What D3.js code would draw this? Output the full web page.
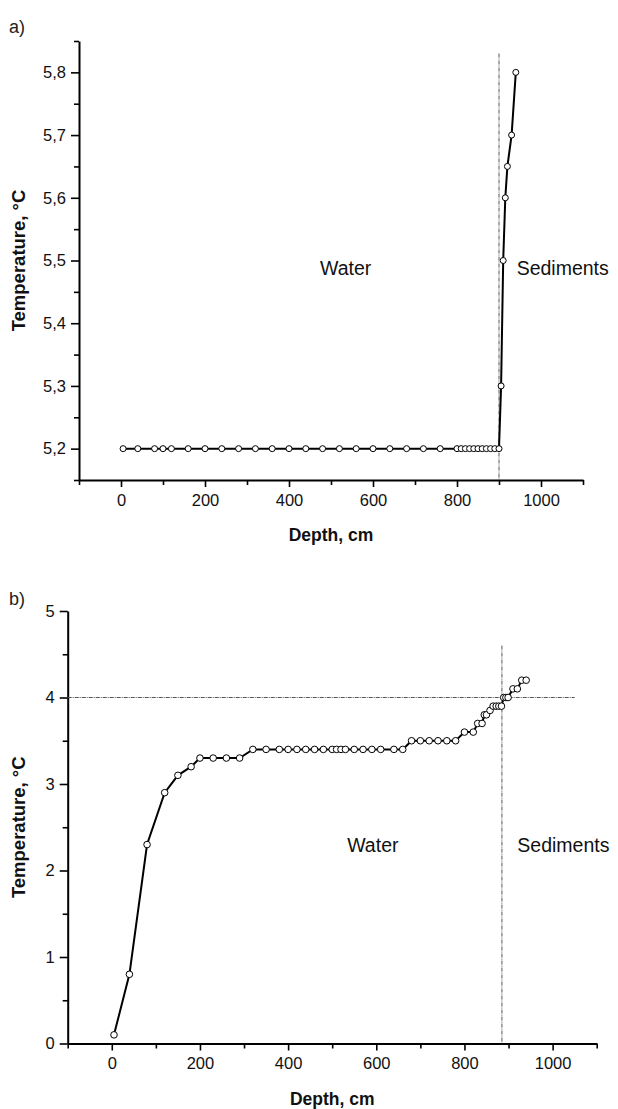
<!DOCTYPE html>
<html>
<head>
<meta charset="utf-8">
<script src="https://cdn.jsdelivr.net/npm/d3@7"></script>
<style>
  body { margin: 0; background: #fff; }
  svg { font-family: "Liberation Sans", Arial, sans-serif; }
</style>
</head>
<body>
<div id="chart"></div>
<script>
    // panel a) - temperature profile
    const depthA = [5, 40, 80, 100, 120, 160, 200, 240, 280, 320, 360, 400, 440, 480, 520, 560, 600, 640, 680, 720, 760,
        800, 810, 820, 830, 840, 850, 860, 870, 880, 890, 900, 905, 910, 915, 920, 930, 940];
    const tempA = [5.2, 5.2, 5.2, 5.2, 5.2, 5.2, 5.2, 5.2, 5.2, 5.2, 5.2, 5.2, 5.2, 5.2, 5.2, 5.2, 5.2, 5.2, 5.2, 5.2, 5.2,
        5.2, 5.2, 5.2, 5.2, 5.2, 5.2, 5.2, 5.2, 5.2, 5.2, 5.2, 5.3, 5.5, 5.6, 5.65, 5.7, 5.8];

    // panel b)
    const depthB = [5, 40, 80, 120, 150, 180, 200, 230, 260, 290,
        320, 350, 380, 400, 420, 440, 460, 480, 500, 510, 520, 530, 550, 570, 590, 610, 640, 660,
        680, 700, 720, 740, 760, 780, 800, 820, 830, 840, 845, 850, 858, 865, 872, 878, 884,
        889, 894, 899, 910, 920, 930, 940];
    const tempB = [0.1, 0.8, 2.3, 2.9, 3.1, 3.2, 3.3, 3.3, 3.3, 3.3,
        3.4, 3.4, 3.4, 3.4, 3.4, 3.4, 3.4, 3.4, 3.4, 3.4, 3.4, 3.4, 3.4, 3.4, 3.4, 3.4, 3.4, 3.4,
        3.5, 3.5, 3.5, 3.5, 3.5, 3.5, 3.6, 3.6, 3.7, 3.7, 3.8, 3.8, 3.85, 3.9, 3.9, 3.9, 3.9,
        4.0, 4.0, 4.0, 4.1, 4.1, 4.2, 4.2];

    const xMajor = [0, 200, 400, 600, 800, 1000];
    const xMinor = [-100, 100, 300, 500, 700, 900, 1100];
    const yMajorA = [5.2, 5.3, 5.4, 5.5, 5.6, 5.7, 5.8];
    const yMinorA = [5.15, 5.25, 5.35, 5.45, 5.55, 5.65, 5.75, 5.85];
    const yMajorB = [0, 1, 2, 3, 4, 5];
    const yMinorB = [0.5, 1.5, 2.5, 3.5, 4.5];

    const width = 618;
    const height = 1109;

    const svg = d3.select("#chart").append("svg")
        .attr("width", width)
        .attr("height", height);

    const commaFmt = d => d3.format(".1f")(d).replace(".", ",");

    function drawPanel(opt) {
        const x = d3.scaleLinear().domain([-100, 1100]).range(opt.xRange);
        const y = d3.scaleLinear().domain(opt.yDomain).range(opt.yRange);
        const g = svg.append("g");

        // minor ticks
        g.append("g")
            .attr("transform", `translate(0,${opt.yRange[0]})`)
            .call(d3.axisBottom(x).tickValues(xMinor).tickSize(5).tickFormat(""))
            .call(a => a.select(".domain").remove());
        g.append("g")
            .attr("transform", `translate(${opt.xRange[0]},0)`)
            .call(d3.axisLeft(y).tickValues(opt.yMinor).tickSize(5).tickFormat(""))
            .call(a => a.select(".domain").remove());

        // major ticks
        g.append("g")
            .attr("transform", `translate(0,${opt.yRange[0]})`)
            .call(d3.axisBottom(x).tickValues(xMajor).tickSize(7).tickPadding(7).tickSizeOuter(0)
                .tickFormat(d3.format("d")));
        g.append("g")
            .attr("transform", `translate(${opt.xRange[0]},0)`)
            .call(d3.axisLeft(y).tickValues(opt.yMajor).tickSize(8).tickPadding(5).tickSizeOuter(0)
                .tickFormat(opt.yFmt));

        g.selectAll(".tick line").attr("stroke", "#000").attr("stroke-width", 1.6);
        g.selectAll(".domain").attr("stroke", "#000").attr("stroke-width", 2);
        g.selectAll(".tick text").attr("font-size", 16.5).attr("fill", "#111")
            .attr("font-family", "'Liberation Sans', Arial, sans-serif");

        // reference lines
        g.append("line")
            .attr("x1", x(opt.vLine)).attr("x2", x(opt.vLine))
            .attr("y1", y(opt.vTop)).attr("y2", opt.yRange[0])
            .attr("stroke", "#555").attr("stroke-width", 1)
            .attr("stroke-dasharray", "4,1,1,1");
        if (opt.hLine !== undefined) {
            g.append("line")
                .attr("x1", opt.xRange[0]).attr("x2", x(1050))
                .attr("y1", y(opt.hLine)).attr("y2", y(opt.hLine))
                .attr("stroke", "#555").attr("stroke-width", 1)
                .attr("stroke-dasharray", "4,1,1,1");
        }

        const pts = opt.depth.map((d, i) => [d, opt.temp[i]]);
        g.append("path")
            .datum(pts)
            .attr("fill", "none")
            .attr("stroke", "#000")
            .attr("stroke-width", 2)
            .attr("d", d3.line().x(d => x(d[0])).y(d => y(d[1])));

        g.selectAll("circle.pt")
            .data(pts)
            .join("circle")
            .attr("class", "pt")
            .attr("cx", d => x(d[0]))
            .attr("cy", d => y(d[1]))
            .attr("r", opt.r)
            .attr("fill", "#fff")
            .attr("stroke", "#000")
            .attr("stroke-width", 1);

        // labels
        g.append("text")
            .attr("x", x(opt.waterX)).attr("y", y(opt.textY))
            .attr("dominant-baseline", "middle")
            .attr("font-size", 19.5).attr("fill", "#111")
            .text("Water");
        g.append("text")
            .attr("x", x(opt.sedX)).attr("y", y(opt.textY))
            .attr("dominant-baseline", "middle")
            .attr("font-size", 19.5).attr("fill", "#111")
            .text("Sediments");

        g.append("text")
            .attr("x", (opt.xRange[0] + opt.xRange[1]) / 2)
            .attr("y", opt.yRange[0] + 61)
            .attr("text-anchor", "middle")
            .attr("font-size", 17.5).attr("font-weight", "bold").attr("fill", "#111")
            .text("Depth, cm");

        g.append("text")
            .attr("transform", `translate(25,${(opt.yRange[0] + opt.yRange[1]) / 2}) rotate(-90)`)
            .attr("text-anchor", "middle")
            .attr("font-size", 18.5).attr("font-weight", "bold").attr("fill", "#111")
            .text("Temperature, °C");

        g.append("text")
            .attr("x", 9).attr("y", opt.tagY)
            .attr("font-size", 18).attr("fill", "#222")
            .text(opt.tag);
    }

    drawPanel({
        depth: depthA, temp: tempA,
        xRange: [79, 583], yDomain: [5.15, 5.85], yRange: [480, 41],
        yMajor: yMajorA, yMinor: yMinorA, yFmt: commaFmt, r: 3,
        vLine: 900, vTop: 5.83,
        textY: 5.485, waterX: 474, sedX: 942,
        tag: "a)", tagY: 33
    });

    drawPanel({
        depth: depthB, temp: tempB,
        xRange: [67.7, 596.7], yDomain: [0, 5], yRange: [1043.5, 611],
        yMajor: yMajorB, yMinor: yMinorB, yFmt: d3.format("d"), r: 3.3,
        vLine: 885, vTop: 4.6, hLine: 4,
        textY: 2.27, waterX: 534, sedX: 920,
        tag: "b)", tagY: 605
    });
</script>
</body>
</html>
